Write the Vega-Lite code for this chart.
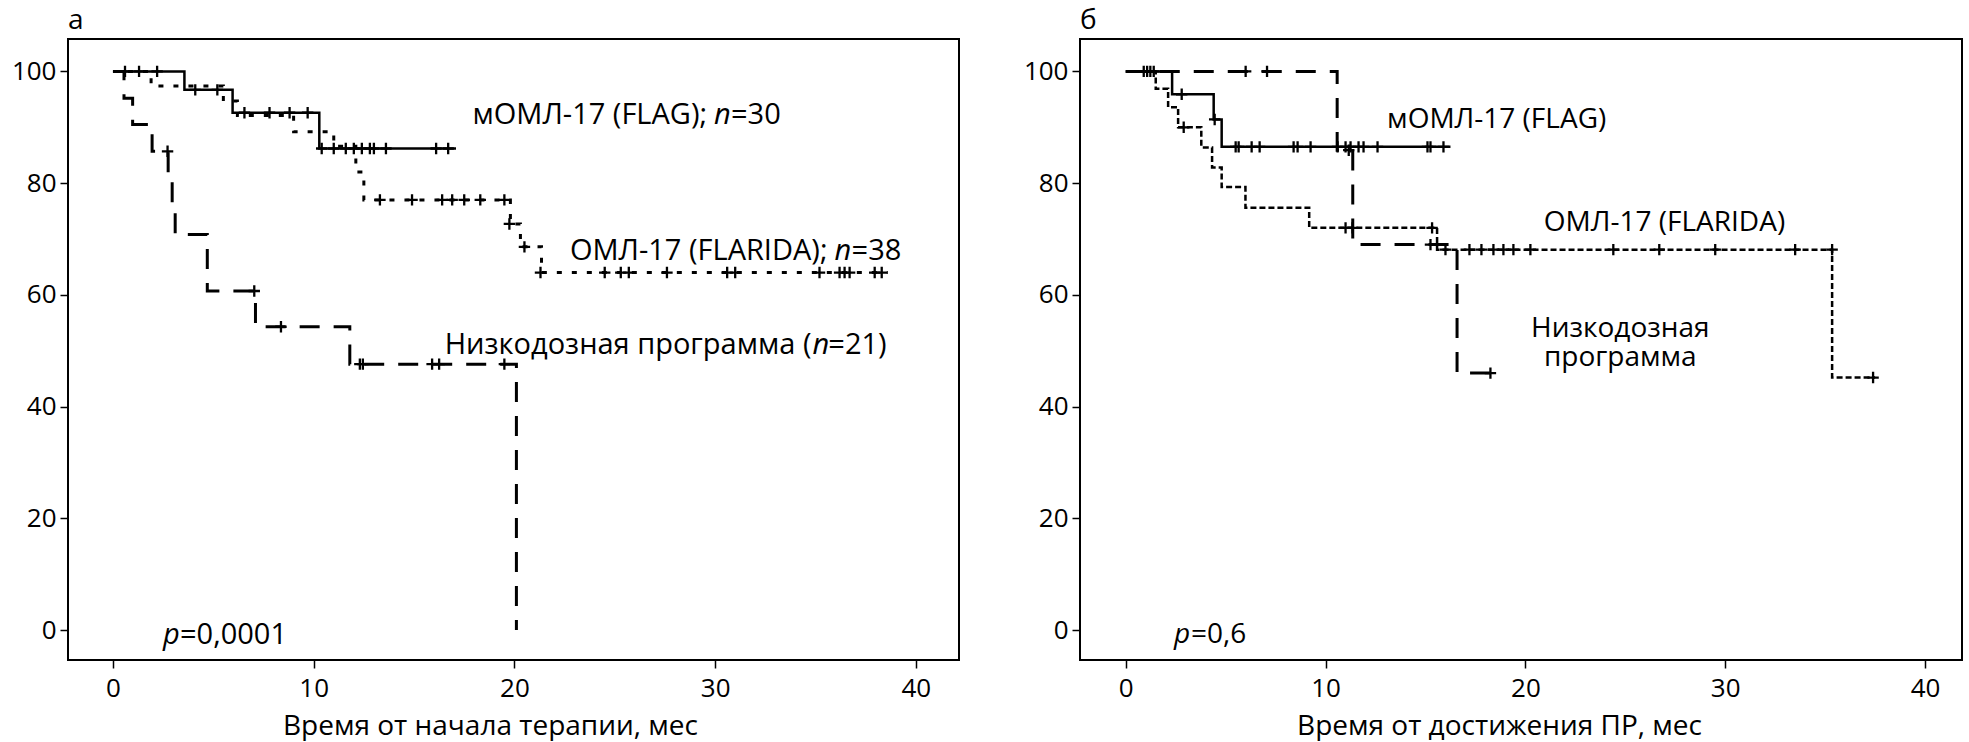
{
  "$schema": "https://vega.github.io/schema/vega-lite/v6.json",
  "padding": {"left": 8, "top": 6, "right": 0, "bottom": 0},
  "spacing": 60,
  "config": {
    "font": "Open Sans",
    "view": {"stroke": "black", "strokeWidth": 2},
    "axis": {
      "domain": false, "grid": false,
      "tickColor": "black", "tickWidth": 1.5, "tickSize": 8,
      "labelFont": "Open Sans", "labelFontSize": 26, "labelColor": "black",
      "labelOverlap": false,
      "titleFont": "Open Sans", "titleFontSize": 28, "titleFontWeight": "normal", "titleColor": "black"
    },
    "title": {"font": "Open Sans", "fontSize": 28, "fontWeight": "normal", "color": "black"}
  },
  "datasets": {
    "curves": [
      {"p": "a", "g": "flag", "t": 0, "s": 100},
      {"p": "a", "g": "flag", "t": 3.56, "s": 96.7},
      {"p": "a", "g": "flag", "t": 5.96, "s": 92.6},
      {"p": "a", "g": "flag", "t": 10.28, "s": 86.2},
      {"p": "a", "g": "flag", "t": 17.09, "s": 86.2},

      {"p": "a", "g": "flarida", "t": 0, "s": 100},
      {"p": "a", "g": "flarida", "t": 1.9, "s": 97.4},
      {"p": "a", "g": "flarida", "t": 5.5, "s": 94.7},
      {"p": "a", "g": "flarida", "t": 6.2, "s": 92.1},
      {"p": "a", "g": "flarida", "t": 9.0, "s": 89.2},
      {"p": "a", "g": "flarida", "t": 11.0, "s": 86.6},
      {"p": "a", "g": "flarida", "t": 12.1, "s": 82.0},
      {"p": "a", "g": "flarida", "t": 12.5, "s": 77.0},
      {"p": "a", "g": "flarida", "t": 19.8, "s": 72.7},
      {"p": "a", "g": "flarida", "t": 20.3, "s": 68.6},
      {"p": "a", "g": "flarida", "t": 21.35, "s": 64.0},
      {"p": "a", "g": "flarida", "t": 38.6, "s": 64.0},

      {"p": "a", "g": "low", "t": 0, "s": 100},
      {"p": "a", "g": "low", "t": 0.55, "s": 95.2},
      {"p": "a", "g": "low", "t": 0.98, "s": 90.5},
      {"p": "a", "g": "low", "t": 1.95, "s": 85.7},
      {"p": "a", "g": "low", "t": 2.75, "s": 81.0},
      {"p": "a", "g": "low", "t": 2.95, "s": 76.2},
      {"p": "a", "g": "low", "t": 3.1, "s": 70.8},
      {"p": "a", "g": "low", "t": 4.7, "s": 60.7},
      {"p": "a", "g": "low", "t": 7.1, "s": 54.3},
      {"p": "a", "g": "low", "t": 11.8, "s": 47.6},
      {"p": "a", "g": "low", "t": 20.1, "s": 0},

      {"p": "b", "g": "flag", "t": 0, "s": 100},
      {"p": "b", "g": "flag", "t": 2.32, "s": 95.9},
      {"p": "b", "g": "flag", "t": 4.4, "s": 91.4},
      {"p": "b", "g": "flag", "t": 4.8, "s": 86.5},
      {"p": "b", "g": "flag", "t": 16.25, "s": 86.5},

      {"p": "b", "g": "flarida", "t": 0, "s": 100},
      {"p": "b", "g": "flarida", "t": 1.5, "s": 96.9},
      {"p": "b", "g": "flarida", "t": 2.12, "s": 93.6},
      {"p": "b", "g": "flarida", "t": 2.62, "s": 90.0},
      {"p": "b", "g": "flarida", "t": 3.78, "s": 86.4},
      {"p": "b", "g": "flarida", "t": 4.32, "s": 82.8},
      {"p": "b", "g": "flarida", "t": 4.8, "s": 79.3},
      {"p": "b", "g": "flarida", "t": 5.99, "s": 75.6},
      {"p": "b", "g": "flarida", "t": 9.18, "s": 72.0},
      {"p": "b", "g": "flarida", "t": 15.58, "s": 68.1},
      {"p": "b", "g": "flarida", "t": 35.35, "s": 45.2},
      {"p": "b", "g": "flarida", "t": 37.5, "s": 45.2},

      {"p": "b", "g": "low", "t": 0, "s": 100},
      {"p": "b", "g": "low", "t": 10.58, "s": 85.9},
      {"p": "b", "g": "low", "t": 11.36, "s": 69.0},
      {"p": "b", "g": "low", "t": 16.58, "s": 46.0},
      {"p": "b", "g": "low", "t": 18.25, "s": 46.0}
    ],
    "censors": [
      {"p": "a", "t": 0.6, "s": 100}, {"p": "a", "t": 1.3, "s": 100}, {"p": "a", "t": 2.2, "s": 100},
      {"p": "a", "t": 4.1, "s": 96.7}, {"p": "a", "t": 5.2, "s": 96.7},
      {"p": "a", "t": 6.55, "s": 92.6}, {"p": "a", "t": 7.8, "s": 92.6}, {"p": "a", "t": 8.8, "s": 92.6}, {"p": "a", "t": 9.7, "s": 92.6},
      {"p": "a", "t": 10.4, "s": 86.2}, {"p": "a", "t": 11.0, "s": 86.2}, {"p": "a", "t": 11.6, "s": 86.2}, {"p": "a", "t": 12.0, "s": 86.2},
      {"p": "a", "t": 12.4, "s": 86.2}, {"p": "a", "t": 12.8, "s": 86.2}, {"p": "a", "t": 13.0, "s": 86.2}, {"p": "a", "t": 13.6, "s": 86.2},
      {"p": "a", "t": 16.1, "s": 86.2}, {"p": "a", "t": 16.7, "s": 86.2},

      {"p": "a", "t": 13.3, "s": 77}, {"p": "a", "t": 14.9, "s": 77}, {"p": "a", "t": 16.4, "s": 77}, {"p": "a", "t": 16.9, "s": 77},
      {"p": "a", "t": 17.5, "s": 77}, {"p": "a", "t": 18.3, "s": 77}, {"p": "a", "t": 19.5, "s": 77},
      {"p": "a", "t": 19.75, "s": 72.7}, {"p": "a", "t": 20.5, "s": 68.6},
      {"p": "a", "t": 21.3, "s": 64}, {"p": "a", "t": 24.5, "s": 64}, {"p": "a", "t": 25.3, "s": 64}, {"p": "a", "t": 25.7, "s": 64},
      {"p": "a", "t": 27.6, "s": 64}, {"p": "a", "t": 30.6, "s": 64}, {"p": "a", "t": 31.0, "s": 64}, {"p": "a", "t": 35.2, "s": 64},
      {"p": "a", "t": 36.2, "s": 64}, {"p": "a", "t": 36.45, "s": 64}, {"p": "a", "t": 36.7, "s": 64}, {"p": "a", "t": 37.95, "s": 64},
      {"p": "a", "t": 38.3, "s": 64},

      {"p": "a", "t": 2.72, "s": 85.7}, {"p": "a", "t": 7.04, "s": 60.7}, {"p": "a", "t": 8.37, "s": 54.3},
      {"p": "a", "t": 12.3, "s": 47.6}, {"p": "a", "t": 12.45, "s": 47.6}, {"p": "a", "t": 15.9, "s": 47.6},
      {"p": "a", "t": 16.25, "s": 47.6}, {"p": "a", "t": 19.5, "s": 47.6},

      {"p": "b", "t": 0.9, "s": 100}, {"p": "b", "t": 1.07, "s": 100}, {"p": "b", "t": 1.23, "s": 100}, {"p": "b", "t": 1.4, "s": 100},
      {"p": "b", "t": 2.8, "s": 95.9}, {"p": "b", "t": 4.45, "s": 91.4},
      {"p": "b", "t": 5.5, "s": 86.5}, {"p": "b", "t": 5.65, "s": 86.5}, {"p": "b", "t": 6.3, "s": 86.5}, {"p": "b", "t": 6.7, "s": 86.5},
      {"p": "b", "t": 8.4, "s": 86.5}, {"p": "b", "t": 8.6, "s": 86.5}, {"p": "b", "t": 9.25, "s": 86.5}, {"p": "b", "t": 10.6, "s": 86.5},
      {"p": "b", "t": 11.0, "s": 86.5}, {"p": "b", "t": 11.25, "s": 86.5}, {"p": "b", "t": 11.65, "s": 86.5}, {"p": "b", "t": 11.9, "s": 86.5},
      {"p": "b", "t": 12.6, "s": 86.5}, {"p": "b", "t": 15.1, "s": 86.5}, {"p": "b", "t": 15.25, "s": 86.5}, {"p": "b", "t": 15.9, "s": 86.5},

      {"p": "b", "t": 2.9, "s": 90.0}, {"p": "b", "t": 11.0, "s": 72.0}, {"p": "b", "t": 11.35, "s": 72.0}, {"p": "b", "t": 15.33, "s": 72.0},
      {"p": "b", "t": 16.0, "s": 68.1}, {"p": "b", "t": 17.2, "s": 68.1}, {"p": "b", "t": 17.8, "s": 68.1}, {"p": "b", "t": 18.4, "s": 68.1},
      {"p": "b", "t": 18.9, "s": 68.1}, {"p": "b", "t": 19.4, "s": 68.1}, {"p": "b", "t": 20.25, "s": 68.1}, {"p": "b", "t": 24.4, "s": 68.1},
      {"p": "b", "t": 26.7, "s": 68.1}, {"p": "b", "t": 29.5, "s": 68.1}, {"p": "b", "t": 33.5, "s": 68.1}, {"p": "b", "t": 35.35, "s": 68.1},
      {"p": "b", "t": 37.4, "s": 45.2},

      {"p": "b", "t": 6.0, "s": 100}, {"p": "b", "t": 7.07, "s": 100}, {"p": "b", "t": 11.16, "s": 85.9},
      {"p": "b", "t": 15.25, "s": 69.0}, {"p": "b", "t": 18.25, "s": 46.0}
    ],
    "labels": [
      {"p": "a", "k": "pre", "t": 29.6, "s": 90.6, "text": "мОМЛ-17 (FLAG);"},
      {"p": "a", "k": "ital", "t": 29.94, "s": 90.6, "text": "n"},
      {"p": "a", "k": "plain", "t": 30.79, "s": 90.6, "text": "=30"},
      {"p": "a", "k": "pre", "t": 35.6, "s": 66.2, "text": "ОМЛ-17 (FLARIDA);"},
      {"p": "a", "k": "ital", "t": 35.95, "s": 66.2, "text": "n"},
      {"p": "a", "k": "plain", "t": 36.8, "s": 66.2, "text": "=38"},
      {"p": "a", "k": "pre", "t": 34.8, "s": 49.5, "text": "Низкодозная программа ("},
      {"p": "a", "k": "ital", "t": 34.85, "s": 49.5, "text": "n"},
      {"p": "a", "k": "plain", "t": 35.64, "s": 49.5, "text": "=21)"},
      {"p": "a", "k": "ital", "t": 2.49, "s": -2.45, "text": "p"},
      {"p": "a", "k": "plain", "t": 3.34, "s": -2.45, "text": "=0,0001"},

      {"p": "b", "k": "plain", "t": 13.08, "s": 89.8, "text": "мОМЛ-17 (FLAG)"},
      {"p": "b", "k": "plain", "t": 20.92, "s": 71.4, "text": "ОМЛ-17 (FLARIDA)"},
      {"p": "b", "k": "mid", "t": 24.75, "s": 52.4, "text": "Низкодозная"},
      {"p": "b", "k": "mid", "t": 24.75, "s": 47.3, "text": "программа"},
      {"p": "b", "k": "ital", "t": 2.41, "s": -2.32, "text": "p"},
      {"p": "b", "k": "plain", "t": 3.26, "s": -2.32, "text": "=0,6"}
    ]
  },
  "hconcat": [
    {
      "title": {"text": "а", "anchor": "start", "frame": "group", "baseline": "alphabetic", "offset": -18},
      "width": 891,
      "height": 621,
      "encoding": {
        "x": {
          "field": "t", "type": "quantitative",
          "scale": {"domain": [-2.24, 42.15], "nice": false, "zero": false},
          "axis": {
            "values": [0, 10, 20, 30, 40], "labelPadding": 7,
            "title": "Время от начала терапии, мес",
            "titleX": 422, "titleY": 74, "titleBaseline": "alphabetic", "titleAlign": "center", "titleAnchor": null
          }
        },
        "y": {
          "field": "s", "type": "quantitative",
          "scale": {"domain": [-5.35, 105.8], "nice": false, "zero": false},
          "axis": {"values": [0, 20, 40, 60, 80, 100], "title": null, "labelPadding": 4, "minExtent": 59, "maxExtent": 59}
        }
      },
      "layer": [
        {
          "data": {"name": "curves"},
          "transform": [{"filter": "datum.p === 'a' && datum.g === 'low'"}],
          "mark": {"type": "line", "interpolate": "step-after", "color": "black", "strokeWidth": 3, "strokeDash": [20, 14]}
        },
        {
          "data": {"name": "curves"},
          "transform": [{"filter": "datum.p === 'a' && datum.g === 'flarida'"}],
          "mark": {"type": "line", "interpolate": "step-after", "color": "black", "strokeWidth": 3, "strokeDash": [5, 10]}
        },
        {
          "data": {"name": "curves"},
          "transform": [{"filter": "datum.p === 'a' && datum.g === 'flag'"}],
          "mark": {"type": "line", "interpolate": "step-after", "color": "black", "strokeWidth": 2.5}
        },
        {
          "data": {"name": "censors"},
          "transform": [{"filter": "datum.p === 'a'"}],
          "mark": {"type": "point", "shape": "M-1,0H1M0,-1V1", "filled": false, "stroke": "black", "strokeWidth": 2.3, "size": 130, "opacity": 1}
        },
        {
          "data": {"name": "labels"},
          "transform": [{"filter": "datum.p === 'a' && datum.k === 'pre'"}],
          "mark": {"type": "text", "align": "right", "baseline": "alphabetic", "fontSize": 29, "color": "black"},
          "encoding": {"text": {"field": "text"}}
        },
        {
          "data": {"name": "labels"},
          "transform": [{"filter": "datum.p === 'a' && datum.k === 'plain'"}],
          "mark": {"type": "text", "align": "left", "baseline": "alphabetic", "fontSize": 29, "color": "black"},
          "encoding": {"text": {"field": "text"}}
        },
        {
          "data": {"name": "labels"},
          "transform": [{"filter": "datum.p === 'a' && datum.k === 'ital'"}],
          "mark": {"type": "text", "align": "left", "baseline": "alphabetic", "fontSize": 29, "fontStyle": "italic", "color": "black"},
          "encoding": {"text": {"field": "text"}}
        }
      ]
    },
    {
      "title": {"text": "б", "anchor": "start", "frame": "group", "baseline": "alphabetic", "offset": -18},
      "width": 882,
      "height": 621,
      "encoding": {
        "x": {
          "field": "t", "type": "quantitative",
          "scale": {"domain": [-2.29, 41.85], "nice": false, "zero": false},
          "axis": {
            "values": [0, 10, 20, 30, 40], "labelPadding": 7,
            "title": "Время от достижения ПР, мес",
            "titleX": 419, "titleY": 74, "titleBaseline": "alphabetic", "titleAlign": "center", "titleAnchor": null
          }
        },
        "y": {
          "field": "s", "type": "quantitative",
          "scale": {"domain": [-5.35, 105.8], "nice": false, "zero": false},
          "axis": {"values": [0, 20, 40, 60, 80, 100], "title": null, "labelPadding": 4, "minExtent": 59, "maxExtent": 59}
        }
      },
      "layer": [
        {
          "data": {"name": "curves"},
          "transform": [{"filter": "datum.p === 'b' && datum.g === 'low'"}],
          "mark": {"type": "line", "interpolate": "step-after", "color": "black", "strokeWidth": 3, "strokeDash": [20, 14]}
        },
        {
          "data": {"name": "curves"},
          "transform": [{"filter": "datum.p === 'b' && datum.g === 'flarida'"}],
          "mark": {"type": "line", "interpolate": "step-after", "color": "black", "strokeWidth": 2.5, "strokeDash": [6, 3]}
        },
        {
          "data": {"name": "curves"},
          "transform": [{"filter": "datum.p === 'b' && datum.g === 'flag'"}],
          "mark": {"type": "line", "interpolate": "step-after", "color": "black", "strokeWidth": 2.5}
        },
        {
          "data": {"name": "censors"},
          "transform": [{"filter": "datum.p === 'b'"}],
          "mark": {"type": "point", "shape": "M-1,0H1M0,-1V1", "filled": false, "stroke": "black", "strokeWidth": 2.3, "size": 130, "opacity": 1}
        },
        {
          "data": {"name": "labels"},
          "transform": [{"filter": "datum.p === 'b' && datum.k === 'plain'"}],
          "mark": {"type": "text", "align": "left", "baseline": "alphabetic", "fontSize": 28, "color": "black"},
          "encoding": {"text": {"field": "text"}}
        },
        {
          "data": {"name": "labels"},
          "transform": [{"filter": "datum.p === 'b' && datum.k === 'mid'"}],
          "mark": {"type": "text", "align": "center", "baseline": "alphabetic", "fontSize": 28, "color": "black"},
          "encoding": {"text": {"field": "text"}}
        },
        {
          "data": {"name": "labels"},
          "transform": [{"filter": "datum.p === 'b' && datum.k === 'ital'"}],
          "mark": {"type": "text", "align": "left", "baseline": "alphabetic", "fontSize": 28, "fontStyle": "italic", "color": "black"},
          "encoding": {"text": {"field": "text"}}
        }
      ]
    }
  ]
}
